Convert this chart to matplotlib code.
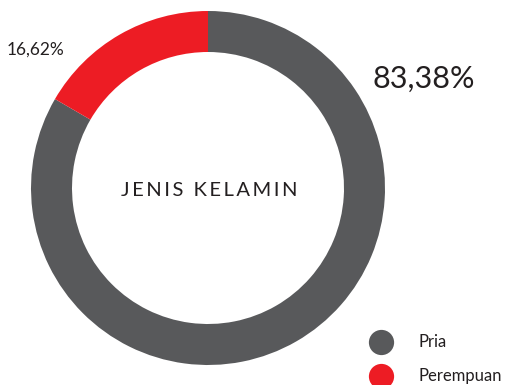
import matplotlib
matplotlib.use('Agg')
import matplotlib.pyplot as plt

plt.rcParams['font.family'] = ['Lato', 'DejaVu Sans']

# komposisi jenis kelamin (%)
labels = ['Pria', 'Perempuan']
values = [83.38, 16.62]
colors = ['#58595b', '#ed1c24']

W, H = 508, 385
fig = plt.figure(figsize=(W / 100, H / 100), dpi=100)
ax = fig.add_axes([0, 0, 1, 1])

cx, cy, R = 208, H - 188, 177
ax.pie(values, colors=colors, startangle=90, counterclock=False,
       center=(cx, cy), radius=R,
       wedgeprops=dict(width=41, linewidth=0))

ax.set_xlim(0, W)
ax.set_ylim(0, H)
ax.set_aspect('equal')
ax.axis('off')


def pct(v):
    return f'{v:.2f}'.replace('.', ',') + '%'


ax.text(372, H - 79, pct(values[0]), fontsize=22, ha='left', va='center',
        color='#231f20')
ax.text(7, H - 50, pct(values[1]), fontsize=12.5, ha='left', va='center',
        color='#231f20')

title = '\u2009'.join('JENIS KELAMIN')
ax.text(cx + 1, H - 190, title, fontsize=14.5, ha='center', va='center',
        color='#231f20', fontweight='normal',
        family=['Lato', 'DejaVu Sans'])

# legenda
for i, (lab, col) in enumerate(zip(labels, colors)):
    y = H - 342 - i * 34
    ax.scatter([381], [y], s=330, color=col, linewidths=0, clip_on=False)
    ax.text(418, y, lab, fontsize=12, ha='left', va='center', color='#231f20')

fig.savefig('out.png', dpi=100)
